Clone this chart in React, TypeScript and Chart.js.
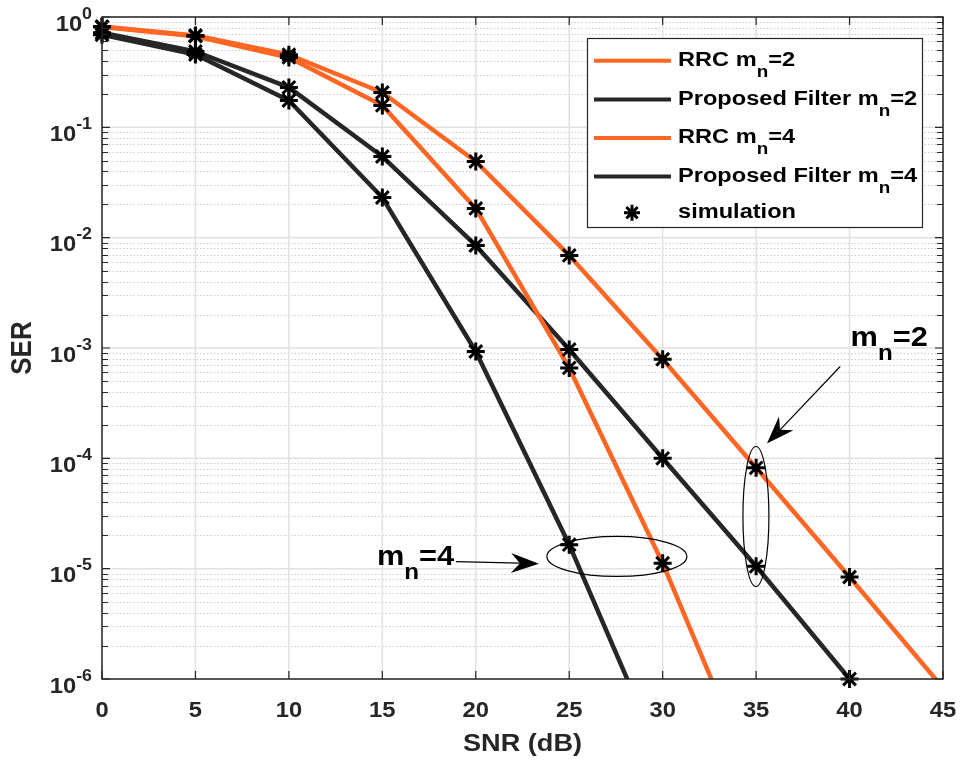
import React, { useEffect, useRef } from "react";
import { Chart, registerables } from "chart.js";

Chart.register(...registerables);

// ---------------- data ----------------
const SNR = [0, 5, 10, 15, 20, 25, 30, 35, 40, 45];
const RRC_M2 = [0.82, 0.68, 0.455, 0.207, 0.049, 0.0069, 7.9e-4, 8.2e-5, 8.4e-6, 8.3e-7];
const PROP_M2 = [0.72, 0.487, 0.23, 0.0544, 0.0085, 9.7e-4, 1.0e-4, 1.05e-5, 1.0e-6];
const RRC_M4 = [0.81, 0.67, 0.43, 0.158, 0.0184, 6.6e-4, 1.12e-5, 1.08e-7];
const PROP_M4 = [0.69, 0.457, 0.175, 0.0231, 9.3e-4, 1.65e-5, 1.8e-7];

const X_TICKS = [0, 5, 10, 15, 20, 25, 30, 35, 40, 45];
const Y_DECADES = [0, -1, -2, -3, -4, -5, -6];
const Y_MIN = 1e-6;
const Y_MAX = 1;

const LEGEND_ITEMS = [
  { base: "RRC m", sub: "n", tail: "=2", kind: "orange" },
  { base: "Proposed Filter m", sub: "n", tail: "=2", kind: "dark" },
  { base: "RRC m", sub: "n", tail: "=4", kind: "orange" },
  { base: "Proposed Filter m", sub: "n", tail: "=4", kind: "dark" },
  { base: "simulation", sub: "", tail: "", kind: "star" },
];

// annotation anchors (data coordinates)
const ANN_M2_TEXT = { x: 40.05, y: 1.05e-3, tail: "=2" };
const ANN_M2_ARROW = { x0: 39.5, y0: 6.8e-4, x1: 35.58, y1: 1.36e-4 };
const ANN_M2_ELLIPSE = { x: 34.99, y: 2.97e-5 };
const ANN_M4_TEXT = { x: 14.71, y: 1.09e-5, tail: "=4" };
const ANN_M4_ARROW = { x0: 18.94, y0: 1.16e-5, x1: 23.38, y1: 1.11e-5 };
const ANN_M4_ELLIPSE = { x: 27.55, y: 1.29e-5 };

// ---------------- styles ----------------
const ORANGE = "rgb(255,102,36)";
const DARK = "rgb(38,38,38)";
const AXIS = "rgb(38,38,38)";
const FONT = '"Liberation Sans", Arial, Helvetica, sans-serif';

type Part = { t: string; size: number; dy: number };

function setFont(ctx: CanvasRenderingContext2D, size: number) {
  ctx.font = `bold ${size}px ${FONT}`;
}

function richWidth(ctx: CanvasRenderingContext2D, parts: Part[], sx: number) {
  let w = 0;
  for (const p of parts) {
    setFont(ctx, p.size);
    w += ctx.measureText(p.t).width * sx;
  }
  return w;
}

function drawRich(ctx: CanvasRenderingContext2D, parts: Part[], x: number, y: number, sx: number) {
  let cx = x;
  ctx.textAlign = "left";
  ctx.textBaseline = "alphabetic";
  for (const p of parts) {
    setFont(ctx, p.size);
    const w = ctx.measureText(p.t).width * sx;
    ctx.save();
    ctx.translate(cx, y + p.dy);
    ctx.scale(sx, 1);
    ctx.fillText(p.t, 0, 0);
    ctx.restore();
    cx += w;
  }
}

function drawStar(ctx: CanvasRenderingContext2D, x: number, y: number, r: number) {
  ctx.save();
  ctx.strokeStyle = "#000";
  ctx.lineWidth = 3;
  ctx.beginPath();
  for (let k = 0; k < 4; k++) {
    const a = (k * Math.PI) / 4;
    ctx.moveTo(x - r * Math.cos(a), y - r * Math.sin(a));
    ctx.lineTo(x + r * Math.cos(a), y + r * Math.sin(a));
  }
  ctx.stroke();
  ctx.restore();
}

function drawArrow(ctx: CanvasRenderingContext2D, x0: number, y0: number, x1: number, y1: number) {
  const dx = x1 - x0;
  const dy = y1 - y0;
  const len = Math.hypot(dx, dy);
  const ux = dx / len;
  const uy = dy / len;
  const nx = -uy;
  const ny = ux;
  const L = 28;
  const W = 10;
  const notch = 9;
  ctx.save();
  ctx.strokeStyle = "#000";
  ctx.fillStyle = "#000";
  ctx.lineWidth = 1.2;
  ctx.beginPath();
  ctx.moveTo(x0, y0);
  ctx.lineTo(x1 - ux * (L - notch), y1 - uy * (L - notch));
  ctx.stroke();
  ctx.beginPath();
  ctx.moveTo(x1, y1);
  ctx.lineTo(x1 - ux * L + nx * W, y1 - uy * L + ny * W);
  ctx.lineTo(x1 - ux * (L - notch), y1 - uy * (L - notch));
  ctx.lineTo(x1 - ux * L - nx * W, y1 - uy * L - ny * W);
  ctx.closePath();
  ctx.fill();
  ctx.restore();
}

const matlabPlugin = {
  id: "matlabLook",
  beforeDatasetsDraw(chart: any) {
    const ctx: CanvasRenderingContext2D = chart.ctx;
    const { left, right, top, bottom } = chart.chartArea;
    const xs = chart.scales.x;
    const ys = chart.scales.y;
    ctx.save();
    ctx.fillStyle = "#fff";
    ctx.fillRect(left, top, right - left, bottom - top);
    // minor y grid (dotted)
    ctx.strokeStyle = "rgb(205,205,205)";
    ctx.lineWidth = 1;
    ctx.setLineDash([1.5, 2]);
    for (const d of Y_DECADES) {
      if (d >= 0) continue;
      for (let m = 2; m <= 9; m++) {
        const py = Math.round(ys.getPixelForValue(m * Math.pow(10, d))) + 0.5;
        ctx.beginPath();
        ctx.moveTo(left, py);
        ctx.lineTo(right, py);
        ctx.stroke();
      }
    }
    ctx.setLineDash([]);
    // major grid
    ctx.strokeStyle = "rgb(225,225,225)";
    ctx.lineWidth = 1.5;
    for (const t of X_TICKS) {
      const px = xs.getPixelForValue(t);
      ctx.beginPath();
      ctx.moveTo(px, top);
      ctx.lineTo(px, bottom);
      ctx.stroke();
    }
    for (const d of Y_DECADES) {
      const py = ys.getPixelForValue(Math.pow(10, d));
      ctx.beginPath();
      ctx.moveTo(left, py);
      ctx.lineTo(right, py);
      ctx.stroke();
    }
    ctx.restore();
  },
  afterDatasetsDraw(chart: any) {
    const ctx: CanvasRenderingContext2D = chart.ctx;
    const { left, right, top, bottom } = chart.chartArea;
    const xs = chart.scales.x;
    const ys = chart.scales.y;
    const X = (v: number) => xs.getPixelForValue(v);
    const Y = (v: number) => ys.getPixelForValue(v);
    ctx.save();

    // ---- annotations ----
    ctx.fillStyle = "#000";
    ctx.strokeStyle = "#000";
    ctx.lineWidth = 1.2;
    ctx.beginPath();
    ctx.ellipse(X(ANN_M2_ELLIPSE.x), Y(ANN_M2_ELLIPSE.y), 13, 70, 0, 0, Math.PI * 2);
    ctx.stroke();
    ctx.beginPath();
    ctx.ellipse(X(ANN_M4_ELLIPSE.x), Y(ANN_M4_ELLIPSE.y), 70, 20, 0, 0, Math.PI * 2);
    ctx.stroke();
    drawArrow(ctx, X(ANN_M2_ARROW.x0), Y(ANN_M2_ARROW.y0), X(ANN_M2_ARROW.x1), Y(ANN_M2_ARROW.y1));
    drawArrow(ctx, X(ANN_M4_ARROW.x0), Y(ANN_M4_ARROW.y0), X(ANN_M4_ARROW.x1), Y(ANN_M4_ARROW.y1));
    for (const a of [ANN_M2_TEXT, ANN_M4_TEXT]) {
      drawRich(
        ctx,
        [
          { t: "m", size: 28, dy: 0 },
          { t: "n", size: 22, dy: 14 },
          { t: a.tail, size: 28, dy: 0 },
        ],
        X(a.x),
        Y(a.y),
        1.1
      );
    }

    // ---- axes box ----
    ctx.strokeStyle = AXIS;
    ctx.lineWidth = 1.5;
    ctx.strokeRect(left, top, right - left, bottom - top);

    // ---- ticks ----
    ctx.lineWidth = 1.2;
    ctx.beginPath();
    for (const t of X_TICKS) {
      const px = X(t);
      ctx.moveTo(px, bottom);
      ctx.lineTo(px, bottom - 8);
      ctx.moveTo(px, top);
      ctx.lineTo(px, top + 8);
    }
    for (const d of Y_DECADES) {
      const py = Y(Math.pow(10, d));
      ctx.moveTo(left, py);
      ctx.lineTo(left + 8, py);
      ctx.moveTo(right, py);
      ctx.lineTo(right - 8, py);
      if (d < 0) {
        for (let m = 2; m <= 9; m++) {
          const pm = Math.round(Y(m * Math.pow(10, d))) + 0.5;
          ctx.moveTo(left, pm);
          ctx.lineTo(left + 6, pm);
          ctx.moveTo(right, pm);
          ctx.lineTo(right - 6, pm);
        }
      }
    }
    ctx.stroke();

    // ---- tick labels ----
    ctx.fillStyle = AXIS;
    for (const t of X_TICKS) {
      const parts = [{ t: String(t), size: 22, dy: 0 }];
      const w = richWidth(ctx, parts, 1.08);
      drawRich(ctx, parts, X(t) - w / 2, bottom + 38, 1.08);
    }
    for (const d of Y_DECADES) {
      const py = Y(Math.pow(10, d));
      const parts = [
        { t: "10", size: 22, dy: 13.5 },
        { t: d === 0 ? "0" : "-" + String(-d), size: 16.5, dy: 1.5 },
      ];
      const w = richWidth(ctx, parts, 1.08);
      drawRich(ctx, parts, left - 10 - w, py, 1.08);
    }

    // ---- axis titles ----
    const xt = [{ t: "SNR (dB)", size: 24, dy: 0 }];
    const xtw = richWidth(ctx, xt, 1.13);
    drawRich(ctx, xt, (left + right) / 2 - xtw / 2, bottom + 72, 1.13);
    ctx.save();
    setFont(ctx, 26);
    ctx.translate(31, (top + bottom) / 2);
    ctx.scale(1.12, 1);
    ctx.rotate(-Math.PI / 2);
    ctx.textAlign = "center";
    ctx.textBaseline = "alphabetic";
    ctx.fillText("SER", 0, 0);
    ctx.restore();

    // ---- legend ----
    const lx = 587;
    const ly = 38;
    const lw = right - 21 - lx;
    const lh = 189;
    ctx.fillStyle = "#fff";
    ctx.fillRect(lx, ly, lw, lh);
    ctx.strokeStyle = AXIS;
    ctx.lineWidth = 1.2;
    ctx.strokeRect(lx + 0.5, ly + 0.5, lw, lh);
    const rowY = [60.7, 99.5, 138, 176.5, 212.7];
    LEGEND_ITEMS.forEach((it, i) => {
      const yy = rowY[i];
      if (it.kind === "star") {
        drawStar(ctx, 632, yy, 8);
      } else {
        ctx.strokeStyle = it.kind === "orange" ? ORANGE : DARK;
        ctx.lineWidth = 4;
        ctx.beginPath();
        ctx.moveTo(594, yy);
        ctx.lineTo(671, yy);
        ctx.stroke();
      }
      ctx.fillStyle = "#000";
      const parts: Part[] = [{ t: it.base, size: 20, dy: 0 }];
      if (it.sub) parts.push({ t: it.sub, size: 16, dy: 11 });
      if (it.tail) parts.push({ t: it.tail, size: 20, dy: 0 });
      drawRich(ctx, parts, 678, yy + 5, 1.18);
    });

    ctx.restore();
  },
};

function pts(vals: number[]) {
  return vals.map((v, i) => ({ x: SNR[i], y: v }));
}

export default function App() {
  const ref = useRef<HTMLCanvasElement | null>(null);
  useEffect(() => {
    if (!ref.current) return;
    const sim = [RRC_M2, PROP_M2, RRC_M4, PROP_M4].flatMap((vals) =>
      pts(vals).filter((p) => p.y >= Y_MIN)
    );
    const lineDs = (label: string, vals: number[], color: string) => ({
      label,
      data: pts(vals),
      borderColor: color,
      backgroundColor: color,
      borderWidth: 4.5,
      pointRadius: 0,
      pointHoverRadius: 0,
      tension: 0,
      clip: 0,
      borderJoinStyle: "round" as const,
    });
    const chart = new Chart(ref.current, {
      type: "line",
      data: {
        datasets: [
          {
            label: "simulation",
            data: sim,
            showLine: false,
            pointStyle: "star",
            pointRadius: 9,
            pointHoverRadius: 9,
            pointBorderWidth: 3,
            pointBorderColor: "#000",
            pointBackgroundColor: "#000",
            borderColor: "#000",
            clip: false,
          } as any,
          lineDs("Proposed Filter m_n=4", PROP_M4, DARK),
          lineDs("RRC m_n=4", RRC_M4, ORANGE),
          lineDs("Proposed Filter m_n=2", PROP_M2, DARK),
          lineDs("RRC m_n=2", RRC_M2, ORANGE),
        ],
      },
      options: {
        animation: false,
        responsive: false,
        maintainAspectRatio: false,
        devicePixelRatio: 1,
        events: [],
        layout: { autoPadding: false, padding: { left: 102, top: 17, right: 17, bottom: 82 } },
        plugins: { legend: { display: false }, tooltip: { enabled: false } },
        scales: {
          x: {
            type: "linear",
            min: 0,
            max: 45,
            ticks: { display: false },
            grid: { display: false, drawTicks: false },
            border: { display: false },
          },
          y: {
            type: "logarithmic",
            min: Y_MIN,
            max: Y_MAX,
            ticks: { display: false },
            grid: { display: false, drawTicks: false },
            border: { display: false },
          },
        },
      },
      plugins: [matlabPlugin],
    });
    return () => chart.destroy();
  }, []);
  return (
    <div style={{ position: "absolute", left: 0, top: 0, width: 960, height: 761, background: "#fff" }}>
      <canvas ref={ref} width={960} height={761} style={{ display: "block" }} />
    </div>
  );
}
